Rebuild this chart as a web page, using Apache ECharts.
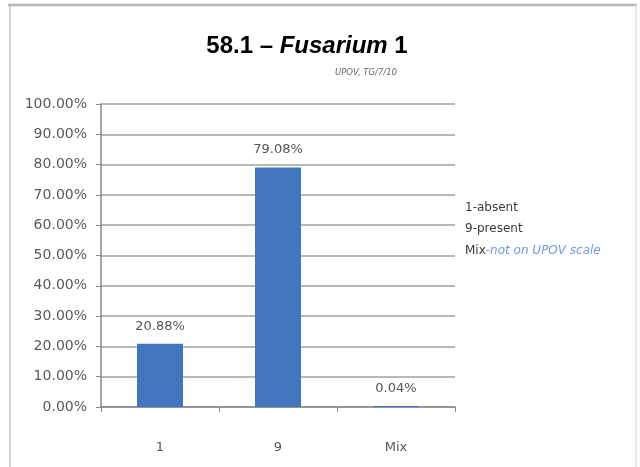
<!DOCTYPE html>
<html>
<head>
<meta charset="utf-8">
<script src="https://cdn.jsdelivr.net/npm/echarts@6/dist/echarts.min.js"></script>
<style>
html,body{margin:0;padding:0;background:#fff;}
#chart{width:640px;height:467px;}
</style>
</head>
<body>
<div id="chart"></div>
<script>
const categories = ['1', '9', 'Mix'];
const values = [20.88, 79.08, 0.04];
const yTicks = [0, 10, 20, 30, 40, 50, 60, 70, 80, 90, 100];
const notes = ['1-absent', '9-present'];
const titleParts = ['58.1 – ', 'Fusarium', ' 1'];
const subtitleText = 'UPOV, TG/7/10';

const chart = echarts.init(document.getElementById('chart'), null, {renderer: 'canvas'});
const FONT = 'DejaVu Sans';
chart.setOption({
  animation: false,
  backgroundColor: '#ffffff',
  title: {
    text: '{a|' + titleParts[0] + '}{b|' + titleParts[1] + '}{a|' + titleParts[2] + '}',
    left: 302, top: 29, textAlign: 'center',
    textStyle: {
      rich: {
        a: {fontFamily: 'Liberation Sans', fontWeight: 'bold', fontSize: 24, color: '#000'},
        b: {fontFamily: 'Liberation Sans', fontWeight: 'bold', fontStyle: 'italic', fontSize: 24, color: '#000'}
      }
    }
  },
  grid: {left: 101, top: 104, right: 185, bottom: 60},
  xAxis: {
    type: 'category',
    data: categories,
    axisLine: {lineStyle: {color: '#8a8a8a', width: 1.5}},
    axisTick: {show: true, length: 5, lineStyle: {color: '#8a8a8a'}},
    axisLabel: {margin: 34, fontFamily: FONT, fontSize: 13, color: '#555'}
  },
  yAxis: {
    type: 'value',
    min: yTicks[0], max: yTicks[yTicks.length - 1], interval: yTicks[1] - yTicks[0],
    axisLine: {show: true, lineStyle: {color: '#8a8a8a', width: 1.5}},
    axisTick: {show: true, length: 5, lineStyle: {color: '#8a8a8a'}},
    splitLine: {lineStyle: {color: '#a0a0a0', width: 1.5}},
    axisLabel: {margin: 14, fontFamily: FONT, fontSize: 14, color: '#5a5a5a',
      formatter: v => v.toFixed(2) + '%'}
  },
  series: [{
    type: 'bar',
    data: values,
    barWidth: 46,
    barMinHeight: 1,
    itemStyle: {color: '#4176be'},
    label: {show: true, position: 'top', distance: 11, fontFamily: FONT, fontSize: 13, color: '#555',
      formatter: p => p.value.toFixed(2) + '%'}
  }],
  graphic: [
    {type: 'line', shape: {x1: 8, y1: 5, x2: 637, y2: 5}, style: {stroke: '#b5b5b5', lineWidth: 2.5}},
    {type: 'line', shape: {x1: 10, y1: 5, x2: 10, y2: 467}, style: {stroke: '#c4c4c4', lineWidth: 1.5}},
    {type: 'line', shape: {x1: 636, y1: 5, x2: 636, y2: 467}, style: {stroke: '#e2e2e2', lineWidth: 1.5}},
    {type: 'text', left: 335, top: 68, style: {text: subtitleText, font: 'italic 8.5px "DejaVu Sans"', fill: '#6a6a6a'}},
    {type: 'text', left: 465, top: 202, style: {text: notes[0], font: '12px "DejaVu Sans"', fill: '#3a3a3a'}},
    {type: 'text', left: 465, top: 223, style: {text: notes[1], font: '12px "DejaVu Sans"', fill: '#3a3a3a'}},
    {type: 'text', left: 465, top: 245, style: {
      text: '{m|Mix}{n|-not on UPOV scale}',
      rich: {
        m: {fontFamily: FONT, fontSize: 12, fill: '#3a3a3a'},
        n: {fontFamily: FONT, fontSize: 12, fontStyle: 'italic', fill: '#6f9be0'}
      }
    }}
  ]
});
</script>
</body>
</html>
